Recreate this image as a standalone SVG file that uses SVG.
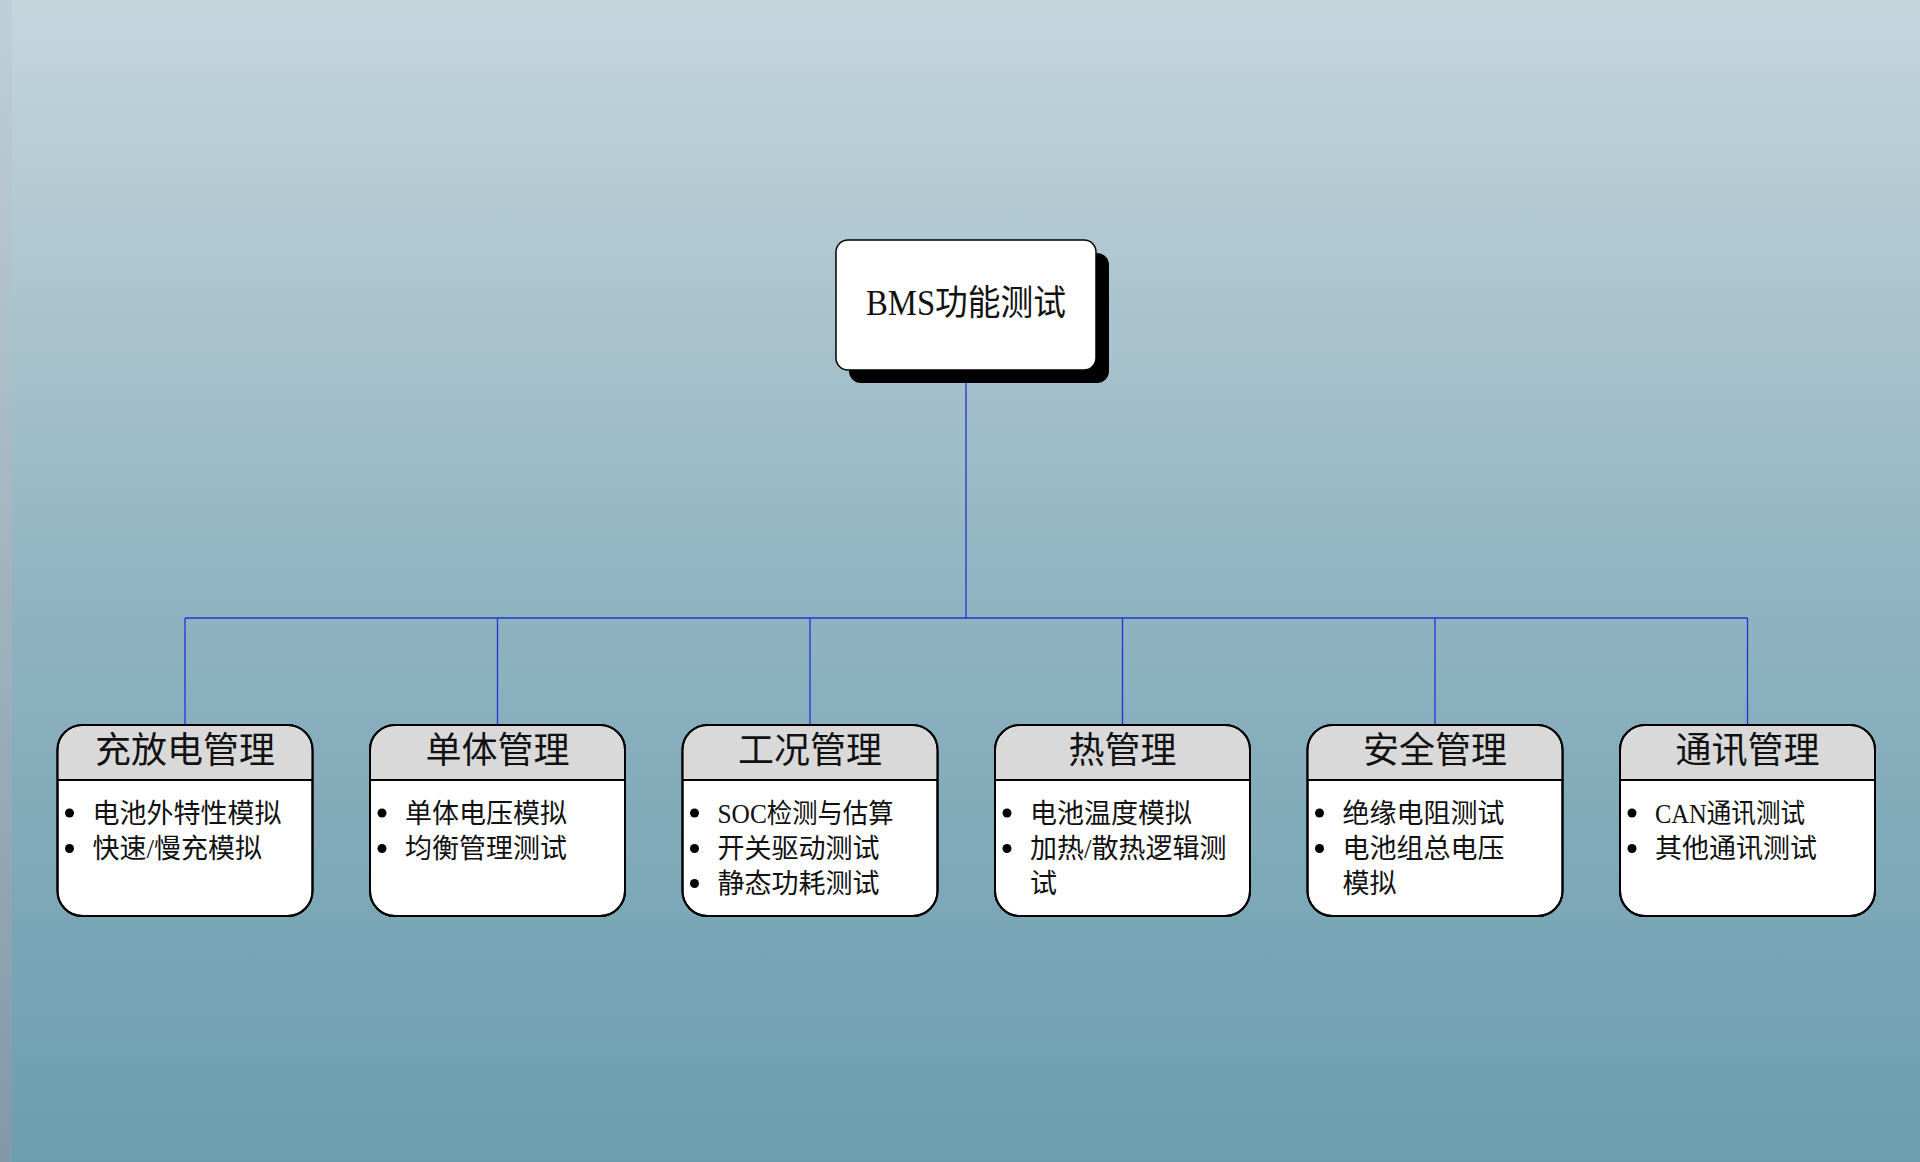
<svg xmlns="http://www.w3.org/2000/svg" width="1920" height="1162" viewBox="0 0 1920 1162">
  <defs>
    <linearGradient id="bg" x1="0" y1="0" x2="0" y2="1">
      <stop offset="0" stop-color="#c5d6dd"/>
      <stop offset="0.5" stop-color="#92b4c2"/>
      <stop offset="1" stop-color="#6a9eaf"/>
    </linearGradient>
    <linearGradient id="strip" x1="0" y1="0" x2="0" y2="1">
      <stop offset="0" stop-color="#bfcfd7"/>
      <stop offset="1" stop-color="#8398a8"/>
    </linearGradient>
    <clipPath id="hdrclip">
      <rect x="0" y="0" width="255" height="55"/>
    </clipPath>
    <style>
      .conn { stroke: #1f34d4; stroke-width: 1.3; fill: none; }
      .main { fill: #ffffff; stroke: #000000; stroke-width: 1.5; }
      .shadow { fill: #000000; }
      .box { fill: #ffffff; stroke: #000000; stroke-width: 2; }
      .hdr { fill: #d9d9d9; }
      .div { stroke: #000000; stroke-width: 2; }
      .title { font-family: "Liberation Serif", "Noto Sans CJK SC", serif; font-size: 36px; fill: #111111; text-anchor: middle; }
      .maint { font-family: "Liberation Serif", "Noto Sans CJK SC", serif; font-size: 35px; fill: #111111; text-anchor: middle; }
      .item { font-family: "Liberation Serif", "Noto Sans CJK SC", serif; font-size: 27px; fill: #111111; }
      .dot { fill: #000000; }
    </style>
  </defs>

  <rect x="0" y="0" width="1920" height="1162" fill="url(#bg)"/>
  <rect x="0" y="0" width="12" height="1162" fill="url(#strip)"/>

  <g id="connectors">
    <line class="conn" x1="966" y1="370" x2="966" y2="618"/>
    <line class="conn" x1="185" y1="618" x2="1747.5" y2="618"/>
    <line class="conn" x1="185" y1="618" x2="185" y2="725"/>
    <line class="conn" x1="497.5" y1="618" x2="497.5" y2="725"/>
    <line class="conn" x1="810" y1="618" x2="810" y2="725"/>
    <line class="conn" x1="1122.5" y1="618" x2="1122.5" y2="725"/>
    <line class="conn" x1="1435" y1="618" x2="1435" y2="725"/>
    <line class="conn" x1="1747.5" y1="618" x2="1747.5" y2="725"/>
  </g>

  <g id="root">
    <rect class="shadow" x="849" y="253" width="260" height="130" rx="12"/>
    <rect class="main" x="836" y="240" width="260" height="130" rx="12"/>
    <text class="maint" x="966" y="315" textLength="200" lengthAdjust="spacingAndGlyphs">BMS功能测试</text>
  </g>

  <g id="n1" transform="translate(57.5,725)">
    <rect class="box" x="0" y="0" width="255" height="191" rx="25"/>
    <path class="hdr" d="M25 1 H230 A24 24 0 0 1 254 25 V55 H1 V25 A24 24 0 0 1 25 1 Z"/>
    <rect class="box" x="0" y="0" width="255" height="191" rx="25" fill="none" style="fill:none"/>
    <line class="div" x1="0" y1="55" x2="255" y2="55"/>
    <text class="title" x="127.5" y="38">充放电管理</text>
    <circle class="dot" cx="12" cy="88" r="4.5"/>
    <text class="item" x="35" y="98">电池外特性模拟</text>
    <circle class="dot" cx="12" cy="123.5" r="4.5"/>
    <text class="item" x="35" y="133">快速/慢充模拟</text>
  </g>

  <g id="n2" transform="translate(370,725)">
    <rect class="box" x="0" y="0" width="255" height="191" rx="25"/>
    <path class="hdr" d="M25 1 H230 A24 24 0 0 1 254 25 V55 H1 V25 A24 24 0 0 1 25 1 Z"/>
    <rect class="box" x="0" y="0" width="255" height="191" rx="25" style="fill:none"/>
    <line class="div" x1="0" y1="55" x2="255" y2="55"/>
    <text class="title" x="127.5" y="38">单体管理</text>
    <circle class="dot" cx="12" cy="88" r="4.5"/>
    <text class="item" x="35" y="98">单体电压模拟</text>
    <circle class="dot" cx="12" cy="123.5" r="4.5"/>
    <text class="item" x="35" y="133">均衡管理测试</text>
  </g>

  <g id="n3" transform="translate(682.5,725)">
    <rect class="box" x="0" y="0" width="255" height="191" rx="25"/>
    <path class="hdr" d="M25 1 H230 A24 24 0 0 1 254 25 V55 H1 V25 A24 24 0 0 1 25 1 Z"/>
    <rect class="box" x="0" y="0" width="255" height="191" rx="25" style="fill:none"/>
    <line class="div" x1="0" y1="55" x2="255" y2="55"/>
    <text class="title" x="127.5" y="38">工况管理</text>
    <circle class="dot" cx="12" cy="88" r="4.5"/>
    <text class="item" x="35" y="98" textLength="176" lengthAdjust="spacingAndGlyphs">SOC检测与估算</text>
    <circle class="dot" cx="12" cy="123.5" r="4.5"/>
    <text class="item" x="35" y="133">开关驱动测试</text>
    <circle class="dot" cx="12" cy="158.5" r="4.5"/>
    <text class="item" x="35" y="168">静态功耗测试</text>
  </g>

  <g id="n4" transform="translate(995,725)">
    <rect class="box" x="0" y="0" width="255" height="191" rx="25"/>
    <path class="hdr" d="M25 1 H230 A24 24 0 0 1 254 25 V55 H1 V25 A24 24 0 0 1 25 1 Z"/>
    <rect class="box" x="0" y="0" width="255" height="191" rx="25" style="fill:none"/>
    <line class="div" x1="0" y1="55" x2="255" y2="55"/>
    <text class="title" x="127.5" y="38">热管理</text>
    <circle class="dot" cx="12" cy="88" r="4.5"/>
    <text class="item" x="35" y="98">电池温度模拟</text>
    <circle class="dot" cx="12" cy="123.5" r="4.5"/>
    <text class="item" x="35" y="133">加热/散热逻辑测</text>
    <text class="item" x="35" y="168">试</text>
  </g>

  <g id="n5" transform="translate(1307.5,725)">
    <rect class="box" x="0" y="0" width="255" height="191" rx="25"/>
    <path class="hdr" d="M25 1 H230 A24 24 0 0 1 254 25 V55 H1 V25 A24 24 0 0 1 25 1 Z"/>
    <rect class="box" x="0" y="0" width="255" height="191" rx="25" style="fill:none"/>
    <line class="div" x1="0" y1="55" x2="255" y2="55"/>
    <text class="title" x="127.5" y="38">安全管理</text>
    <circle class="dot" cx="12" cy="88" r="4.5"/>
    <text class="item" x="35" y="98">绝缘电阻测试</text>
    <circle class="dot" cx="12" cy="123.5" r="4.5"/>
    <text class="item" x="35" y="133">电池组总电压</text>
    <text class="item" x="35" y="168">模拟</text>
  </g>

  <g id="n6" transform="translate(1620,725)">
    <rect class="box" x="0" y="0" width="255" height="191" rx="25"/>
    <path class="hdr" d="M25 1 H230 A24 24 0 0 1 254 25 V55 H1 V25 A24 24 0 0 1 25 1 Z"/>
    <rect class="box" x="0" y="0" width="255" height="191" rx="25" style="fill:none"/>
    <line class="div" x1="0" y1="55" x2="255" y2="55"/>
    <text class="title" x="127.5" y="38">通讯管理</text>
    <circle class="dot" cx="12" cy="88" r="4.5"/>
    <text class="item" x="35" y="98" textLength="150" lengthAdjust="spacingAndGlyphs">CAN通讯测试</text>
    <circle class="dot" cx="12" cy="123.5" r="4.5"/>
    <text class="item" x="35" y="133">其他通讯测试</text>
  </g>
</svg>
